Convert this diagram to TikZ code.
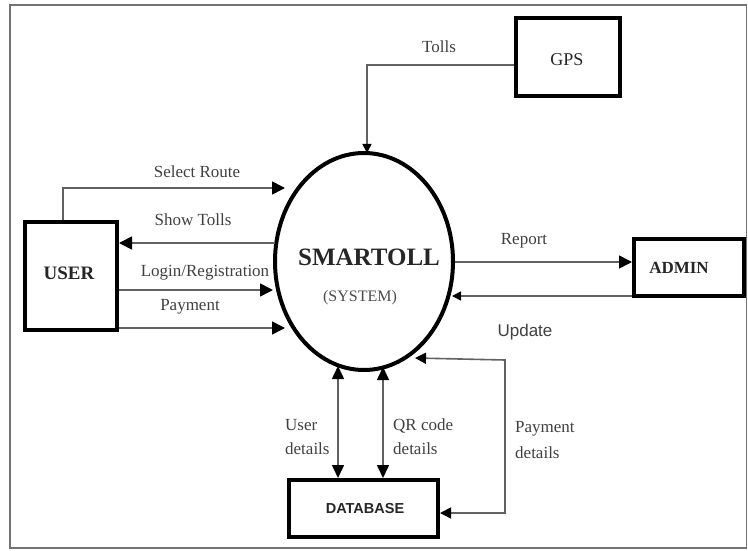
\documentclass[tikz,border=0pt]{standalone}
\usepackage{fontspec}
\setmainfont{Liberation Serif}
\setsansfont{Liberation Sans}
\usetikzlibrary{arrows.meta,shapes.geometric}
\begin{document}
\begin{tikzpicture}[x=1pt,y=-1pt,
  box/.style={draw=black,line width=4pt,inner sep=0pt},
  flow/.style={draw=black!62,line width=1.6pt},
  arr/.style={flow,-{Triangle[length=13pt,width=13pt,color=black]}},
  sarr/.style={flow,-{Triangle[length=9pt,width=9pt,color=black]}},
  darr/.style={flow,{Triangle[length=13pt,width=12pt,color=black]}-{Triangle[length=13pt,width=12pt,color=black]}},
  parr/.style={flow,{Triangle[length=11pt,width=11pt,color=black]}-{Triangle[length=11pt,width=11pt,color=black]}},
  lbl/.style={text=black!75,font=\fontsize{17}{24}\selectfont,inner sep=0pt},
  boxtxt/.style={text=black!85,inner sep=0pt},
]
\useasboundingbox (0,0) rectangle (748,551);
\draw[black!55,line width=1.2pt] (10,5) rectangle (746.5,548);

% boxes
\node[box,minimum width=104pt,minimum height=78pt] (gps) at (568,57) {};
\node[boxtxt,font=\fontsize{18}{20}\selectfont] (gpsT) at (567,60) {GPS};
\node[box,minimum width=92pt,minimum height=108pt] (user) at (71,276) {};
\node[boxtxt,font=\fontsize{19}{21}\selectfont\bfseries] (userT) at (69,273) {USER};
\node[box,minimum width=110pt,minimum height=57pt] (admin) at (689,267.5) {};
\node[boxtxt,font=\fontsize{17}{19}\selectfont\bfseries] (adminT) at (679,268) {ADMIN};
\node[box,minimum width=149pt,minimum height=57pt] (db) at (363.5,508.5) {};
\node[boxtxt,font=\sffamily\fontsize{14.5}{16}\selectfont\bfseries] (dbT) at (365,509) {DATABASE};

% system process
\node[ellipse,draw=black,line width=4pt,minimum width=178pt,minimum height=217pt,inner sep=0pt] (sys) at (364,261.5) {};
\node[boxtxt,font=\fontsize{25}{27}\selectfont\bfseries] (sysT) at (369,257) {SMARTOLL};
\node[boxtxt,text=black!70,font=\fontsize{16}{18}\selectfont] (sysS) at (360,298) {(SYSTEM)};

% free ends on the process border
\coordinate (sTop) at (367,153);
\coordinate (sSel) at (285,188);
\coordinate (sShow) at (275,243);
\coordinate (sLog) at (273,290);
\coordinate (sPay) at (285,328);
\coordinate (sRep) at (455,262);
\coordinate (sUpd) at (452,296);
\coordinate (sU) at (338,366);
\coordinate (sQ) at (383,367);
\coordinate (sPd) at (415,358);
\coordinate (pdR) at (505,360);

% connectors
\draw[sarr] ([yshift=-8pt]gps.west) -| (sTop);
\draw[arr] ([xshift=-8pt]user.north) |- (sSel);
\draw[arr] (sShow) -- (user.east |- sShow);
\draw[arr] (user.east |- sLog) -- (sLog);
\draw[arr] (user.east |- sPay) -- (sPay);
\draw[arr] (sRep) -- (admin.west |- sRep);
\draw[sarr] (admin.west |- sUpd) -- (sUpd);
\draw[darr] (sU) -- (db.north -| sU);
\draw[darr] (sQ) -- (db.north -| sQ);
\draw[parr] (sPd) -- (pdR) |- ([yshift=-4.5pt]db.east);

% labels
\node[lbl] (lTolls) at (439,47) {Tolls};
\node[lbl] (lSel) at (197,172) {Select Route};
\node[lbl] (lShow) at (193,220) {Show Tolls};
\node[lbl] (lLog) at (205,273) {Login/Registration};
\node[lbl] (lPay) at (190,307) {Payment};
\node[lbl] (lRep) at (524,241) {Report};
\node[lbl,font=\sffamily\fontsize{17}{19}\selectfont] (lUpd) at (525,332) {Update};
\node[lbl,align=left,anchor=west] (lUd) at (285,437) {User\\details};
\node[lbl,align=left,anchor=west] (lQr) at (393,437) {QR code\\details};
\node[lbl,align=left,anchor=west,font=\fontsize{17}{26}\selectfont] (lPd) at (515,440) {Payment\\details};
\end{tikzpicture}
\end{document}
